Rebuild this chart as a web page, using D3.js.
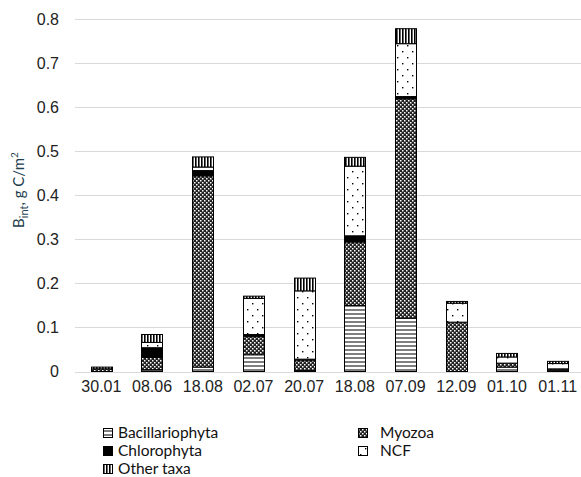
<!DOCTYPE html>
<html>
<head>
<meta charset="utf-8">
<script src="https://cdn.jsdelivr.net/npm/d3@7"></script>
<style>
  body { margin: 0; background: #fff; }
  svg { font-family: Lato, "Open Sans", sans-serif; }
</style>
</head>
<body>
<div id="chart"></div>
<script>
// data (g C/m2)
const dates = ["30.01", "08.06", "18.08", "02.07", "20.07", "18.08 ", "07.09", "12.09", "01.10", "01.11"];
const bacillariophyta = [0, 0.004, 0.01, 0.038, 0.002, 0.15, 0.121, 0, 0.01, 0.003];
const myozoa          = [0.006, 0.028, 0.434, 0.042, 0.024, 0.144, 0.498, 0.112, 0.009, 0.003];
const chlorophyta     = [0, 0.022, 0.012, 0.004, 0.002, 0.014, 0.005, 0, 0, 0];
const ncf             = [0, 0.012, 0.008, 0.082, 0.155, 0.158, 0.12, 0.043, 0.014, 0.012];
const otherTaxa       = [0.004, 0.018, 0.023, 0.005, 0.029, 0.02, 0.034, 0.004, 0.008, 0.005];
const yTicks = [0, 0.1, 0.2, 0.3, 0.4, 0.5, 0.6, 0.7, 0.8];

const seriesNames = ["Bacillariophyta", "Myozoa", "Chlorophyta", "NCF", "Other taxa"];
const seriesValues = [bacillariophyta, myozoa, chlorophyta, ncf, otherTaxa];
const fills = {
  "Bacillariophyta": "url(#p-bac)",
  "Myozoa": "url(#p-myo)",
  "Chlorophyta": "#000",
  "NCF": "url(#p-ncf)",
  "Other taxa": "url(#p-oth)"
};

const W = 581, H = 477;
const margin = {top: 19, right: 0, bottom: 105.5, left: 76};

const svg = d3.select("#chart").append("svg")
  .attr("width", W).attr("height", H);

// patterns
const defs = svg.append("defs");
const pb = defs.append("pattern").attr("id", "p-bac").attr("patternUnits", "userSpaceOnUse")
  .attr("width", 8).attr("height", 4);
pb.append("rect").attr("width", 8).attr("height", 4).attr("fill", "#fff");
pb.append("rect").attr("y", 1.5).attr("width", 8).attr("height", 1).attr("fill", "#000");

const po = defs.append("pattern").attr("id", "p-oth").attr("patternUnits", "userSpaceOnUse")
  .attr("width", 3).attr("height", 8);
po.append("rect").attr("width", 3).attr("height", 8).attr("fill", "#fff");
po.append("rect").attr("x", 0).attr("width", 1.6).attr("height", 8).attr("fill", "#000");

const pm = defs.append("pattern").attr("id", "p-myo").attr("patternUnits", "userSpaceOnUse")
  .attr("width", 4).attr("height", 4);
pm.append("rect").attr("width", 4).attr("height", 4).attr("fill", "#222");
pm.append("rect").attr("x", 0).attr("y", 0).attr("width", 1.5).attr("height", 1.5).attr("fill", "#fff");
pm.append("rect").attr("x", 2).attr("y", 2).attr("width", 1.5).attr("height", 1.5).attr("fill", "#fff");

const pn = defs.append("pattern").attr("id", "p-ncf").attr("patternUnits", "userSpaceOnUse")
  .attr("width", 10).attr("height", 12);
pn.append("rect").attr("width", 10).attr("height", 12).attr("fill", "#fff");
pn.append("rect").attr("x", 2).attr("y", 3).attr("width", 1.4).attr("height", 1.4).attr("fill", "#000");
pn.append("rect").attr("x", 7).attr("y", 9).attr("width", 1.4).attr("height", 1.4).attr("fill", "#000");

const x = d3.scaleBand()
  .domain(dates)
  .range([margin.left, margin.left + 507])
  .paddingInner(0.58).paddingOuter(0.29);

const y = d3.scaleLinear()
  .domain([0, 0.8])
  .range([H - margin.bottom, margin.top]);

// gridlines
svg.append("g")
  .selectAll("line")
  .data(yTicks)
  .join("line")
    .attr("x1", margin.left - 1).attr("x2", W)
    .attr("y1", d => Math.round(y(d)) + 0.5).attr("y2", d => Math.round(y(d)) + 0.5)
    .attr("stroke", "#d9d9d9").attr("stroke-width", 1);

// y axis labels
svg.append("g")
  .attr("transform", `translate(${margin.left}, 0)`)
  .call(d3.axisLeft(y).tickValues(yTicks).tickSize(0).tickPadding(17).tickFormat(d => d === 0 ? "0" : d3.format(".1f")(d)))
  .call(g => g.select(".domain").remove())
  .selectAll("text")
    .style("font-size", "16px")
    .attr("fill", "#222");

// x axis labels
svg.append("g")
  .attr("transform", `translate(0, ${y(0)})`)
  .call(d3.axisBottom(x).tickSize(0).tickPadding(9).tickFormat(d => d.trim()))
  .call(g => g.select(".domain").remove())
  .selectAll("text")
    .style("font-size", "16px")
    .attr("fill", "#222");

// stacked bars
const rows = dates.map((d, i) => {
  const r = {date: d};
  seriesNames.forEach((s, k) => r[s] = seriesValues[k][i]);
  return r;
});
const stack = d3.stack().keys(seriesNames)(rows);

svg.append("g")
  .selectAll("g")
  .data(stack)
  .join("g")
    .attr("fill", d => fills[d.key])
  .selectAll("rect")
  .data(d => d.filter(p => p[1] - p[0] > 0))
  .join("rect")
    .attr("x", d => Math.round(x(d.data.date)) + 0.5)
    .attr("y", d => y(d[1]))
    .attr("width", Math.round(x.bandwidth()))
    .attr("height", d => y(d[0]) - y(d[1]))
    .attr("stroke", "#000")
    .attr("stroke-width", 1);

// y axis title
const yt = svg.append("text")
  .attr("transform", `translate(24, 190) rotate(-90)`)
  .attr("text-anchor", "middle")
  .attr("fill", "#1f3f4f")
  .style("font-size", "15px");
yt.append("tspan").text("B");
yt.append("tspan").attr("dy", 4).style("font-size", "11px").text("int");
yt.append("tspan").attr("dy", -4).text(", g C/m");
yt.append("tspan").attr("dy", -6).style("font-size", "10px").text("2");

// legend
const legendItems = [
  {name: "Bacillariophyta", x: 103, y: 433},
  {name: "Chlorophyta", x: 103, y: 451},
  {name: "Other taxa", x: 103, y: 469},
  {name: "Myozoa", x: 358, y: 433},
  {name: "NCF", x: 358, y: 451}
];
const lg = svg.append("g")
  .selectAll("g")
  .data(legendItems)
  .join("g")
    .attr("transform", d => `translate(${d.x}, ${d.y})`);
lg.append("rect")
  .attr("x", 0.5).attr("y", -4.5).attr("width", 9).attr("height", 9)
  .attr("fill", d => fills[d.name])
  .attr("stroke", "#000");
lg.append("text")
  .attr("x", d => d.x < 200 ? 15 : 22)
  .attr("dy", "0.35em")
  .style("font-size", "15.5px")
  .attr("fill", "#111")
  .text(d => d.name);
</script>
</body>
</html>
